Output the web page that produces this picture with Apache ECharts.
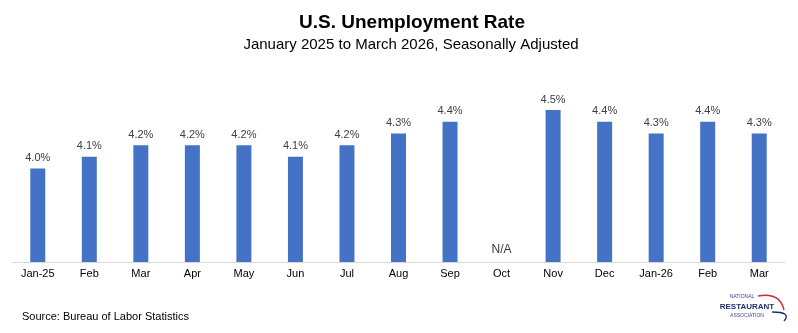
<!DOCTYPE html>
<html>
<head>
<meta charset="utf-8">
<script src="https://cdn.jsdelivr.net/npm/echarts@6/dist/echarts.min.js"></script>
<style>
html,body{margin:0;padding:0;background:#fff;}
#chart{width:798px;height:333px;}
</style>
</head>
<body>
<div id="chart"></div>
<script>
var categories = ['Jan-25','Feb','Mar','Apr','May','Jun','Jul','Aug','Sep','Oct','Nov','Dec','Jan-26','Feb','Mar'];
var rates = [4.0, 4.1, 4.2, 4.2, 4.2, 4.1, 4.2, 4.3, 4.4, null, 4.5, 4.4, 4.3, 4.4, 4.3];
var naFlags = [false,false,false,false,false,false,false,false,false,true,false,false,false,false,false];
var axisMin = 3.2;
var axisMax = 4.8;

var naData = naFlags.map(function(f){ return f ? axisMin : null; });

var chart = echarts.init(document.getElementById('chart'), null, {renderer:'canvas'});
chart.setOption({
  animation: false,
  backgroundColor: '#ffffff',
  title: [
    {text: 'U.S. Unemployment Rate', left: 407, top: 8, textAlign: 'center',
     textStyle: {fontFamily: 'Liberation Sans, Arial', fontSize: 19, fontWeight: 'bold', color: '#000'}},
    {text: 'January 2025 to March 2026, Seasonally Adjusted', left: 406, top: 32, textAlign: 'center',
     textStyle: {fontFamily: 'Liberation Sans, Arial', fontSize: 15, fontWeight: 'normal', color: '#000'}}
  ],
  grid: {left: 12, right: 13, top: 75, bottom: 71, containLabel: false},
  xAxis: {
    type: 'category',
    data: categories,
    axisLine: {show: true, lineStyle: {color: '#d9d9d9', width: 1}},
    axisTick: {show: false},
    axisLabel: {color: '#000', fontFamily: 'Liberation Sans, Arial', fontSize: 11, margin: 6, interval: 0}
  },
  yAxis: {
    type: 'value', min: axisMin, max: axisMax,
    show: false, splitLine: {show: false}
  },
  series: [
    {
      type: 'bar', data: rates, barWidth: 15, barGap: '-100%',
      itemStyle: {color: '#4472c4'},
      label: {show: true, position: 'top', distance: 5, color: '#404040',
        fontFamily: 'Liberation Sans, Arial', fontSize: 11,
        formatter: function(p){ return p.value.toFixed(1) + '%'; }}
    },
    {
      type: 'scatter', data: naData, symbolSize: 0, silent: true,
      label: {show: true, position: 'top', distance: 6, color: '#000',
        fontFamily: 'Liberation Sans, Arial', fontSize: 12,
        formatter: function(){ return 'N/A'; }}
    }
  ],
  graphic: [
    {type: 'text', left: 22, top: 311,
     style: {text: 'Source: Bureau of Labor Statistics', fontFamily: 'Liberation Sans, Arial', fontSize: 11, fill: '#000'}},
    {type: 'text', x: 742, y: 294, style: {text: 'NATIONAL', fontFamily: 'Liberation Sans, Arial', fontSize: 5, fill: '#3b4a8a', textAlign: 'center'}},
    {type: 'text', x: 747, y: 303, style: {text: 'RESTAURANT', fontFamily: 'Liberation Sans, Arial', fontSize: 8, fontWeight: 'bold', fill: '#1f2f6e', textAlign: 'center'}},
    {type: 'text', x: 747, y: 313, style: {text: 'ASSOCIATION', fontFamily: 'Liberation Sans, Arial', fontSize: 5, fill: '#3b4a8a', textAlign: 'center'}},
    {type: 'bezierCurve', shape: {x1: 758, y1: 296, x2: 784, y2: 310, cpx1: 780, cpy1: 292},
     style: {stroke: '#d22630', lineWidth: 1.4, fill: null}},
    {type: 'bezierCurve', shape: {x1: 772, y1: 312, x2: 784, y2: 321, cpx1: 792, cpy1: 312},
     style: {stroke: '#1f2f6e', lineWidth: 1.4, fill: null}}
  ]
});
</script>
</body>
</html>
